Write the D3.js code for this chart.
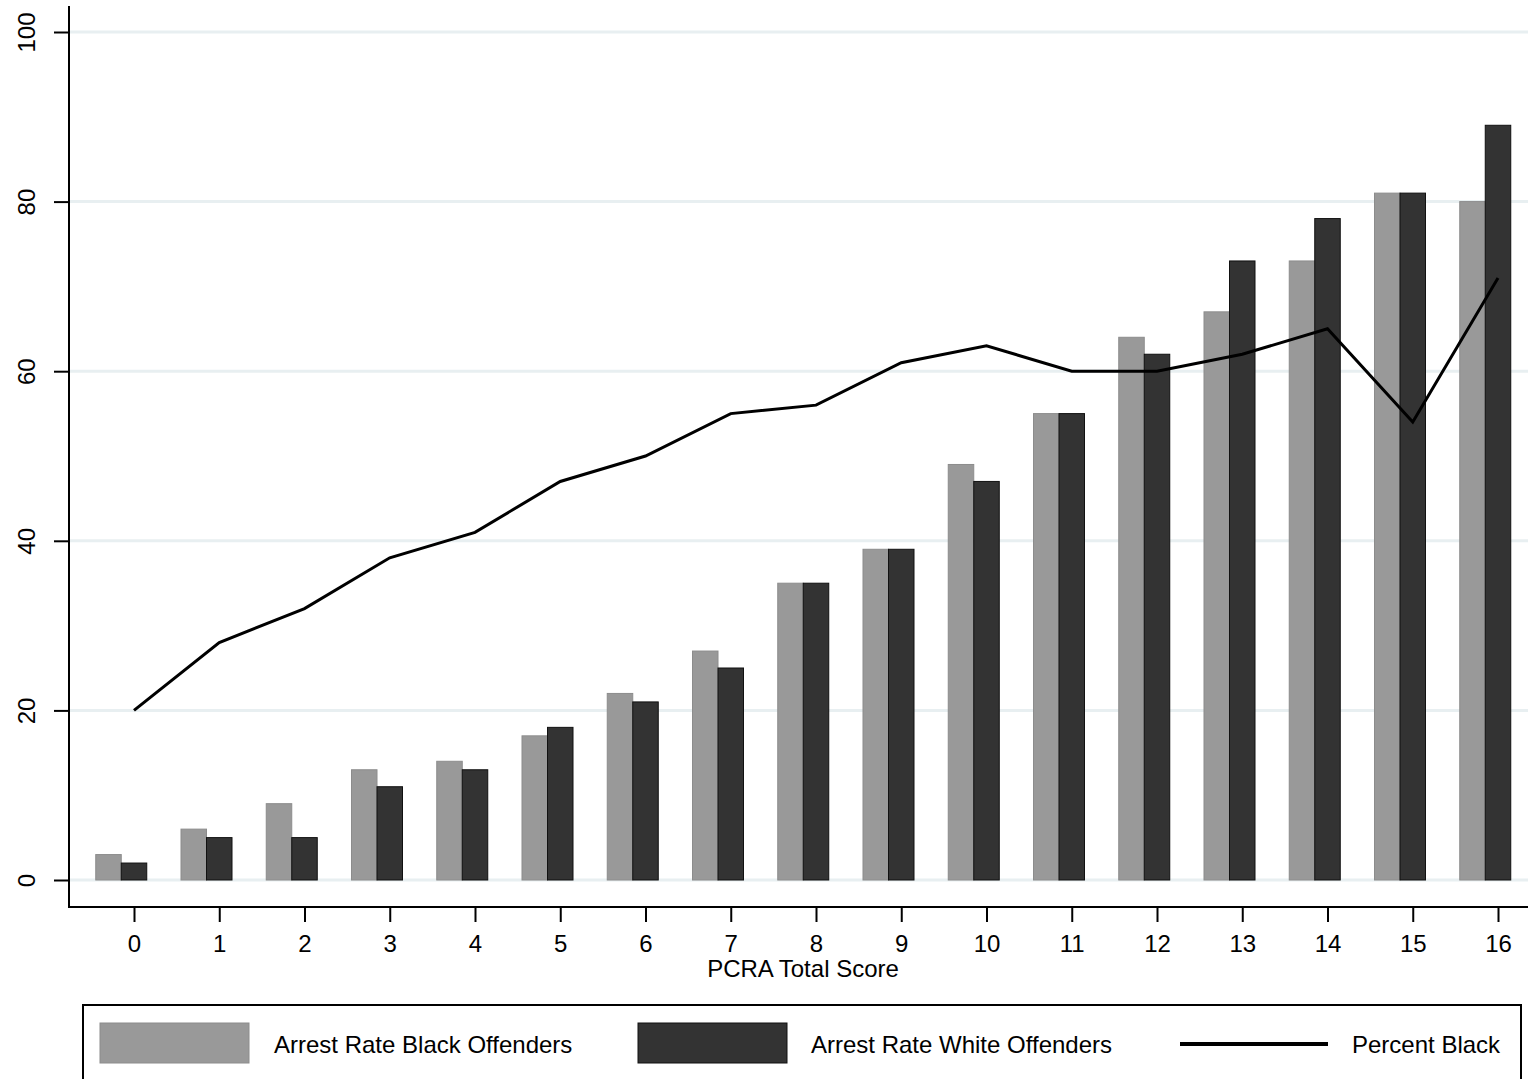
<!DOCTYPE html>
<html><head><meta charset="utf-8">
<script src="https://cdn.jsdelivr.net/npm/d3@7"></script>
<style>body{margin:0;background:#fff;}svg{display:block;font-family:"Liberation Sans",Arial,sans-serif;}</style>
</head><body>
<svg id="c" width="1528" height="1079"></svg>
<script>
const scores = [0,1,2,3,4,5,6,7,8,9,10,11,12,13,14,15,16];
const blackRate = [3,6,9,13,14,17,22,27,35,39,49,55,64,67,73,81,80];
const whiteRate = [2,5,5,11,13,18,21,25,35,39,47,55,62,73,78,81,89];
const pctBlack = [20,28,32,38,41,47,50,55,56,61,63,60,60,62,65,54,71];
const yTicks = [0,20,40,60,80,100];
const legendLabels = ["Arrest Rate Black Offenders","Arrest Rate White Offenders","Percent Black"];

const svg = d3.select("#c");
const x = d3.scaleLinear().domain([0,16]).range([134,1498]);
const y = d3.scaleLinear().domain([0,100]).range([880,32]);
const bw = 25.5;
const FS = "24px";

// gridlines
svg.append("g").selectAll("line").data(yTicks).join("line")
  .attr("x1",70).attr("x2",1528).attr("y1",d=>y(d)).attr("y2",d=>y(d))
  .attr("stroke","#e8eff1").attr("stroke-width",3);

// bars
svg.append("g").selectAll("rect").data(scores).join("rect")
  .attr("x",d=>x(d)-bw*1.5).attr("width",bw)
  .attr("y",(d,i)=>y(blackRate[i])).attr("height",(d,i)=>y(0)-y(blackRate[i]))
  .attr("fill","#999999").attr("stroke","#8c8c8c").attr("stroke-width",1);
svg.append("g").selectAll("rect").data(scores).join("rect")
  .attr("x",d=>x(d)-bw*0.5).attr("width",bw)
  .attr("y",(d,i)=>y(whiteRate[i])).attr("height",(d,i)=>y(0)-y(whiteRate[i]))
  .attr("fill","#333333").attr("stroke","#111").attr("stroke-width",1);

// line
svg.append("path").datum(scores)
  .attr("d",d3.line().x(d=>x(d)).y((d,i)=>y(pctBlack[i])))
  .attr("fill","none").attr("stroke","#000").attr("stroke-width",3);

// y axis
const ya = svg.append("g").attr("transform","translate(69,0)")
  .call(d3.axisLeft(y).tickValues(yTicks).tickSize(15).tickPadding(0));
ya.select(".domain").remove();
ya.selectAll(".tick line").attr("stroke","#000").attr("stroke-width",2);
ya.selectAll(".tick text").remove();
ya.selectAll(".tick").append("text")
  .attr("transform","translate(-34,0) rotate(-90)")
  .attr("text-anchor","middle").attr("fill","#000")
  .style("font-size",FS).style("font-family","'Liberation Sans',Arial,sans-serif")
  .text(d=>d);
svg.append("line").attr("x1",69).attr("x2",69).attr("y1",6).attr("y2",907).attr("stroke","#000").attr("stroke-width",2);

// x axis
const xa = svg.append("g").attr("transform","translate(0,907)")
  .call(d3.axisBottom(x).tickValues(scores).tickSize(15).tickFormat(d3.format("d")));
xa.select(".domain").remove();
xa.selectAll(".tick line").attr("stroke","#000").attr("stroke-width",2);
xa.selectAll(".tick text").attr("y",45).attr("dy",0).attr("fill","#000")
  .style("font-size",FS).style("font-family","'Liberation Sans',Arial,sans-serif");
svg.append("line").attr("x1",68).attr("x2",1528).attr("y1",907).attr("y2",907).attr("stroke","#000").attr("stroke-width",2);

svg.append("text").attr("x",803).attr("y",977).attr("text-anchor","middle")
  .style("font-size",FS).text("PCRA Total Score");

// legend
svg.append("rect").attr("x",83).attr("y",1005).attr("width",1438).attr("height",90)
  .attr("fill","#fff").attr("stroke","#000").attr("stroke-width",2);
const lg = svg.append("g");
lg.append("rect").attr("x",100).attr("y",1023).attr("width",149).attr("height",40).attr("fill","#999999").attr("stroke","#8c8c8c");
lg.append("rect").attr("x",638).attr("y",1023).attr("width",149).attr("height",40).attr("fill","#333333").attr("stroke","#111");
lg.append("line").attr("x1",1180).attr("x2",1328).attr("y1",1044).attr("y2",1044).attr("stroke","#000").attr("stroke-width",4);
const lx = [274,811,1352];
lg.selectAll("text").data(legendLabels).join("text")
  .attr("x",(d,i)=>lx[i]).attr("y",1053).style("font-size",FS).text(d=>d);
</script>
</body></html>
